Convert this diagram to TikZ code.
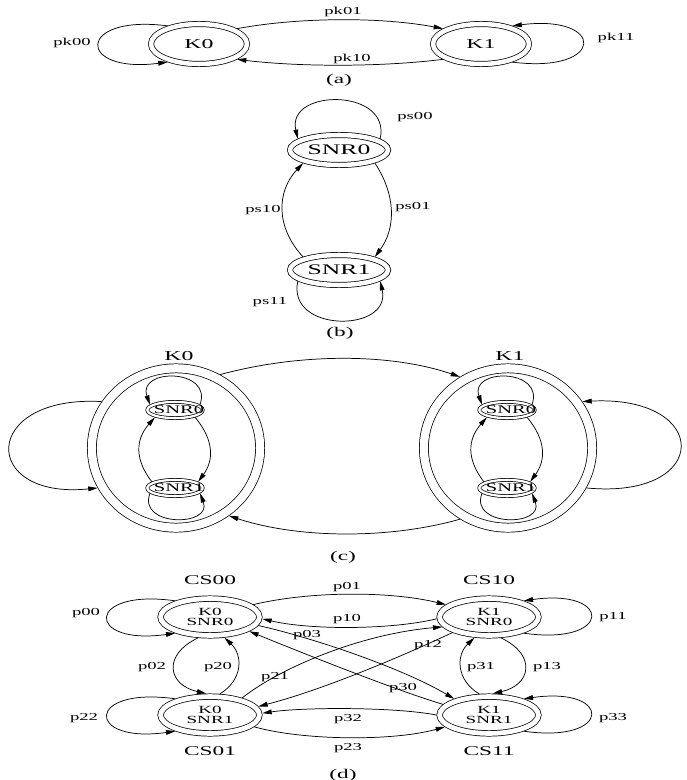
\documentclass[tikz,border=0pt]{standalone}
\usepackage{fontspec}
\setmainfont{Liberation Serif}
\newfontfamily\gvfam[FakeStretch=1.75]{Liberation Serif}
\newcommand\gvlab{\gvfam\fontsize{8}{9}\selectfont}
\newcommand\gvK{\gvfam\fontsize{10.2}{12}\selectfont}
\newcommand\gvSb{\gvfam\fontsize{11}{13}\selectfont}
\newcommand\gvSc{\gvfam\fontsize{8.8}{10}\selectfont}
\newcommand\gvCS{\gvfam\fontsize{10}{12}\selectfont}
\newcommand\gvD{\gvfam\fontsize{8.2}{7.8}\selectfont}
\newcommand\gvcap{\gvfam\fontsize{10}{12}\selectfont}
\usetikzlibrary{shapes.geometric,arrows.meta}
\begin{document}
\begin{tikzpicture}[x=0.75pt,y=-0.75pt,
  nodeA/.style={ellipse, draw, double, line width=0.55pt, double distance=3.4pt, inner sep=0pt, outer sep=2.25pt, minimum width=72pt, minimum height=30pt, font=\gvK},
  nodeB/.style={ellipse, draw, double, line width=0.55pt, double distance=3.4pt, inner sep=0pt, outer sep=2.25pt, minimum width=73.5pt, minimum height=22.5pt, font=\gvSb},
  clus/.style={ellipse, draw, double, line width=0.55pt, double distance=6.2pt, inner sep=0pt, outer sep=3.65pt, minimum width=126.2pt, minimum height=119.5pt},
  small/.style={ellipse, draw, double, line width=0.55pt, double distance=1.7pt, inner sep=0pt, outer sep=1.4pt, minimum width=41.5pt, minimum height=12.2pt, font=\gvSc},
  nodeD/.style={ellipse, draw, double, line width=0.55pt, double distance=3.6pt, inner sep=0pt, outer sep=2.35pt, minimum width=74.1pt, minimum height=27.6pt, font=\gvD, align=center},
  lab/.style={font=\gvlab, inner sep=0pt},
  klab/.style={font=\gvK, inner sep=0pt},
  cslab/.style={font=\gvCS, inner sep=0pt},
  captxt/.style={font=\gvcap, inner sep=0pt},
  ed/.style={line width=0.55pt, -{Triangle[length=7pt,width=3.6pt]}}]
\useasboundingbox (0,0) rectangle (686,780);
% ---------- (a)
\node[nodeA] (k0) at (199,44) {K0};
\node[nodeA] (k1) at (481,44) {K1};
\draw[ed] (k0.22) .. controls (300,17) and (382,17) .. (k1.158);
\draw[ed] (k1.202) .. controls (382,67) and (300,67) .. (k0.338);
\draw[ed] (k0.150) .. controls (76,14) and (76,74) .. (k0.210);
\draw[ed] (k1.330) .. controls (606,74) and (606,14) .. (k1.30);
\node[lab] (lpk01) at (343,12) {pk01};
\node[lab] (lpk10) at (352,59) {pk10};
\node[lab] (lpk00) at (72,43) {pk00};
\node[lab] (lpk11) at (616,38) {pk11};
\node[captxt] (capa) at (339,80) {(a)};
% ---------- (b)
\node[nodeB] (s0) at (339,150) {SNR0};
\node[nodeB] (s1) at (339,270) {SNR1};
\draw[ed] (s0.15) .. controls (392,88) and (286,88) .. (s0.165);
\draw[ed] (s0.340) .. controls (396,195) and (396,228) .. (s1.20);
\draw[ed] (s1.160) .. controls (276,228) and (276,192) .. (s0.200);
\draw[ed] (s1.195) .. controls (286,333) and (392,333) .. (s1.345);
\node[lab] (lps00) at (415,117) {ps00};
\node[lab] (lps01) at (413,207) {ps01};
\node[lab] (lps10) at (263,210) {ps10};
\node[lab] (lps11) at (270,302) {ps11};
\node[captxt] (capb) at (340,333) {(b)};
% ---------- (c)
\node[clus] (c0) at (176,448) {};
\node[clus] (c1) at (508,448) {};
\node[klab] (lc0) at (179,356) {K0};
\node[klab] (lc1) at (510,356) {K1};
\node[small] (a0) at (175,410) {\makebox[0pt]{\hspace*{6pt}SNR0}};
\node[small] (a1) at (175,488) {\makebox[0pt]{\hspace*{6pt}SNR1}};
\node[small] (b0) at (507,410) {\makebox[0pt]{\hspace*{6pt}SNR0}};
\node[small] (b1) at (507,488) {\makebox[0pt]{\hspace*{6pt}SNR1}};
\draw[ed] (a0.12) .. controls (213,368) and (137,368) .. (a0.168);
\draw[ed] (a1.192) .. controls (137,527) and (213,527) .. (a1.348);
\draw[ed] (a0.340) .. controls (214,440) and (214,460) .. (a1.15);
\draw[ed] (a1.165) .. controls (135,460) and (135,440) .. (a0.200);
\draw[ed] (b0.12) .. controls (545,368) and (469,368) .. (b0.168);
\draw[ed] (b1.192) .. controls (469,527) and (545,527) .. (b1.348);
\draw[ed] (b0.340) .. controls (546,440) and (546,460) .. (b1.15);
\draw[ed] (b1.165) .. controls (467,460) and (467,440) .. (b0.200);
\draw[ed] (c0.148) .. controls (-20,395) and (-20,500) .. (c0.207);
\draw[ed] (c1.333) .. controls (712,500) and (712,395) .. (c1.32);
\draw[ed] (c0.59) .. controls (300,353) and (390,353) .. (c1.124);
\draw[ed] (c1.236) .. controls (390,539) and (300,539) .. (c0.308);
\node[captxt] (capc) at (343,557) {(c)};
% ---------- (d)
\node[nodeD] (d00) at (210,617) {K0\\SNR0};
\node[nodeD] (d10) at (489,617) {K1\\SNR0};
\node[nodeD] (d01) at (210,715) {K0\\SNR1};
\node[nodeD] (d11) at (489,715) {K1\\SNR1};
\node[cslab] (lcs00) at (210,580) {CS00};
\node[cslab] (lcs10) at (489,580) {CS10};
\node[cslab] (lcs01) at (210,751) {CS01};
\node[cslab] (lcs11) at (489,751) {CS11};
\draw[ed] (d00.16) .. controls (310,591) and (390,591) .. (d10.164);
\draw[ed] (d10.182) .. controls (390,630) and (310,630) .. (d00.358);
\draw[ed] (d00.350) .. controls (310,637) and (400,667) .. (d11.155);
\draw[ed] (d11.167) .. controls (395,690) and (300,652) .. (d00.340);
\draw[ed] (d01.28) .. controls (280,668) and (360,634) .. (d10.192);
\draw[ed] (d10.203) .. controls (420,648) and (330,688) .. (d01.10);
\draw[ed] (d11.180) .. controls (395,707) and (305,707) .. (d01.2);
\draw[ed] (d01.345) .. controls (305,741) and (395,741) .. (d11.195);
\draw[ed] (d00.155) .. controls (85,588) and (85,646) .. (d00.205);
\draw[ed] (d01.155) .. controls (85,686) and (85,744) .. (d01.205);
\draw[ed] (d10.335) .. controls (613,646) and (613,588) .. (d10.25);
\draw[ed] (d11.335) .. controls (613,744) and (613,686) .. (d11.25);
\draw[ed] (d00.240) .. controls (162,655) and (168,685) .. (d01.100);
\draw[ed] (d01.65) .. controls (243,680) and (243,655) .. (d00.305);
\draw[ed] (d10.300) .. controls (537,655) and (531,685) .. (d11.80);
\draw[ed] (d11.115) .. controls (456,680) and (456,655) .. (d10.235);
\node[lab] (lp01) at (347,587) {p01};
\node[lab] (lp10) at (347,619) {p10};
\node[lab] (lp03) at (307,635) {p03};
\node[lab] (lp30) at (403,688) {p30};
\node[lab] (lp21) at (275,677) {p21};
\node[lab] (lp12) at (428,645) {p12};
\node[lab] (lp32) at (348,719) {p32};
\node[lab] (lp23) at (348,748) {p23};
\node[lab] (lp00) at (86,613) {p00};
\node[lab] (lp22) at (84,718) {p22};
\node[lab] (lp11) at (613,617) {p11};
\node[lab] (lp33) at (613,718) {p33};
\node[lab] (lp02) at (152,667) {p02};
\node[lab] (lp20) at (218,667) {p20};
\node[lab] (lp31) at (481,667) {p31};
\node[lab] (lp13) at (547,667) {p13};
\node[captxt] (capd) at (343,775) {(d)};
\end{tikzpicture}
\end{document}
